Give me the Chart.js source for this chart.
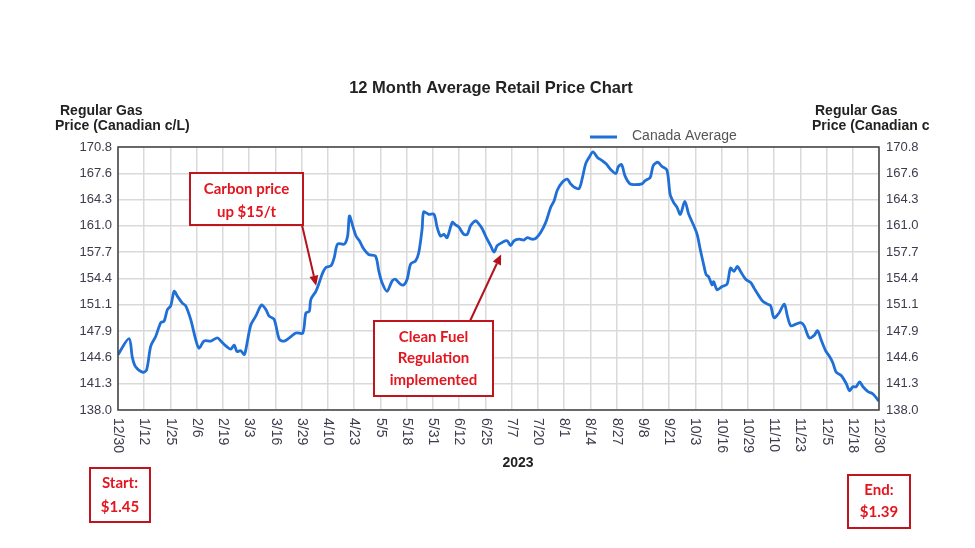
<!DOCTYPE html>
<html>
<head>
<meta charset="utf-8">
<title>12 Month Average Retail Price Chart</title>
<script src="https://cdn.jsdelivr.net/npm/chart.js@4.4.1/dist/chart.umd.min.js"></script>
<style>
  html, body { margin: 0; padding: 0; background: #fff; }
  #wrap { width: 975px; height: 548px; position: relative; }
</style>
</head>
<body>
<div id="wrap"><canvas id="priceChart" width="975" height="548"></canvas></div>
<script>
/* ================================================================
   12 Month Average Retail Price Chart — Canada regular gas
   ================================================================ */

// ── Data ─────────────────────────────────────────────────────────
const dateLabels = ['12/30','1/12','1/25','2/6','2/19','3/3','3/16','3/29','4/10','4/23',
                    '5/5','5/18','5/31','6/12','6/25','7/7','7/20','8/1','8/14','8/27',
                    '9/8','9/21','10/3','10/16','10/29','11/10','11/23','12/5','12/18','12/30'];
const yTickLabels = ['138.0','141.3','144.6','147.9','151.1','154.4','157.7','161.0','164.3','167.6','170.8'];
const yMin = 138.0, yMax = 170.8;

// position along the date axis (in label steps) and price, c/L
const pointPos = [
  0.00, 0.42, 0.55, 0.67, 0.95, 1.09, 1.25, 1.44, 1.63, 1.76, 1.88, 2.01, 2.14, 2.26, 2.46, 2.58,
  2.77, 2.96, 3.09, 3.28, 3.54, 3.79, 3.92, 4.11, 4.30, 4.43, 4.53, 4.68, 4.81, 4.87, 5.06, 5.25,
  5.47, 5.64, 5.76, 5.95, 6.15, 6.34, 6.53, 6.78, 7.04, 7.16, 7.29, 7.35, 7.54, 7.67, 7.80, 7.93,
  8.12, 8.24, 8.37, 8.63, 8.75, 8.82, 8.94, 9.07, 9.20, 9.36, 9.55, 9.81, 9.94, 10.06, 10.25, 10.45,
  10.57, 10.76, 10.89, 11.02, 11.15, 11.34, 11.46, 11.59, 11.65, 11.84, 12.04, 12.16, 12.29, 12.42,
  12.54, 12.74, 12.86, 12.99, 13.18, 13.31, 13.44, 13.63, 13.75, 13.88, 14.01, 14.20, 14.33, 14.45,
  14.64, 14.83, 14.96, 15.09, 15.28, 15.47, 15.60, 15.79, 15.92, 16.10, 16.30, 16.49, 16.62, 16.74,
  16.93, 17.12, 17.25, 17.38, 17.57, 17.70, 17.82, 17.95, 18.10, 18.27, 18.45, 18.60, 18.80, 18.98,
  19.06, 19.19, 19.32, 19.51, 19.70, 19.96, 20.09, 20.28, 20.40, 20.57, 20.72, 20.92, 21.04, 21.17,
  21.30, 21.43, 21.60, 21.75, 21.94, 22.07, 22.19, 22.32, 22.41, 22.51, 22.64, 22.70, 22.83, 23.02,
  23.21, 23.34, 23.47, 23.60, 23.72, 23.92, 24.11, 24.24, 24.43, 24.56, 24.75, 24.87, 25.00, 25.19,
  25.39, 25.51, 25.64, 25.83, 26.02, 26.15, 26.34, 26.53, 26.66, 26.79, 26.98, 27.11, 27.24, 27.37,
  27.56, 27.75, 27.88, 28.00, 28.13, 28.26, 28.39, 28.58, 28.77, 29.00
];
const prices = [
  144.9, 146.9, 144.5, 143.4, 142.7, 143.0, 146.0, 147.2, 148.9, 149.1, 150.5, 151.0, 152.8, 152.2, 151.3, 151.0,
  149.3, 146.8, 145.7, 146.6, 146.6, 147.0, 146.6, 146.0, 145.6, 146.1, 145.3, 145.4, 144.9, 145.5, 148.6, 149.7,
  151.1, 150.5, 149.7, 149.3, 146.8, 146.6, 147.0, 147.6, 147.6, 150.1, 150.3, 151.8, 152.8, 153.9, 155.1, 155.8,
  156.0, 157.0, 158.7, 158.7, 159.7, 162.2, 161.0, 159.7, 159.1, 158.1, 157.4, 157.2, 155.3, 153.9, 152.8, 154.1,
  154.3, 153.7, 153.6, 154.3, 156.2, 156.6, 157.6, 160.6, 162.7, 162.4, 162.4, 160.8, 159.7, 159.9,
  159.5, 161.4, 161.1, 160.8, 159.9, 159.9, 161.0, 161.6, 161.2, 160.6, 159.7, 158.5, 157.7, 158.5,
  158.9, 159.1, 158.5, 159.1, 159.3, 159.2, 159.5, 159.3, 159.4, 160.1, 161.4, 163.3, 164.1, 165.4,
  166.4, 166.8, 166.2, 165.8, 165.6, 167.0, 168.7, 169.5, 170.2, 169.5, 169.1, 168.7, 167.9, 167.5,
  168.3, 168.6, 167.2, 166.2, 166.1, 166.2, 166.6, 167.0, 168.5, 168.9, 168.4, 167.9, 164.9, 163.9,
  163.3, 162.4, 164.0, 162.4, 161.0, 159.9, 158.0, 156.1, 154.9, 154.6, 153.6, 154.0, 153.0, 153.4,
  153.7, 155.7, 155.3, 155.9, 155.3, 154.3, 153.9, 153.2, 152.2, 151.6, 151.2, 151.0, 149.5, 150.1,
  151.2, 149.7, 148.5, 148.7, 148.9, 148.5, 147.0, 147.3, 147.9, 146.8, 145.3, 144.7, 143.9, 142.7,
  142.3, 141.3, 140.4, 140.9, 140.9, 141.5, 140.9, 140.3, 140.0, 139.1
];

// ── Styles ───────────────────────────────────────────────────────
const LINE_BLUE = '#1f6fd6';
const GRID_GREY = '#d9d9d9';
const TICK_COLOR = '#3c3c4c';
const RED_TEXT = '#e3161f';
const RED_BORDER = '#c0141e';
const SANS = '"Liberation Sans", Arial, sans-serif';
const NOTE_FONT = 'bold 15px Lato, "Noto Sans", sans-serif';

// ── Annotation helpers ───────────────────────────────────────────
function noteBox(ctx, x, y, w, h, lines, lineYs) {
  ctx.save();
  ctx.fillStyle = '#fff';
  ctx.fillRect(x, y, w, h);
  ctx.strokeStyle = RED_BORDER;
  ctx.lineWidth = 2;
  ctx.strokeRect(x, y, w, h);
  ctx.fillStyle = RED_TEXT;
  ctx.font = NOTE_FONT;
  ctx.textAlign = 'center';
  ctx.textBaseline = 'middle';
  lines.forEach((t, i) => ctx.fillText(t, x + w / 2, lineYs[i]));
  ctx.restore();
}

function arrow(ctx, x1, y1, x2, y2) {
  const ang = Math.atan2(y2 - y1, x2 - x1);
  const head = 10, half = 4.5;
  ctx.save();
  ctx.strokeStyle = '#b3121c';
  ctx.fillStyle = '#b3121c';
  ctx.lineWidth = 2;
  ctx.beginPath();
  ctx.moveTo(x1, y1);
  ctx.lineTo(x2 - head * Math.cos(ang), y2 - head * Math.sin(ang));
  ctx.stroke();
  ctx.beginPath();
  ctx.moveTo(x2, y2);
  ctx.lineTo(x2 - head * Math.cos(ang) + half * Math.sin(ang), y2 - head * Math.sin(ang) - half * Math.cos(ang));
  ctx.lineTo(x2 - head * Math.cos(ang) - half * Math.sin(ang), y2 - head * Math.sin(ang) + half * Math.cos(ang));
  ctx.closePath();
  ctx.fill();
  ctx.restore();
}

// ── Decorations plugin: frame, titles, legend, date labels, notes ──
const decor = {
  id: 'decor',
  afterDraw(chart) {
    const { ctx, chartArea: a, scales } = chart;
    const xs = scales.x, ys = scales.y;

    // plot frame
    ctx.save();
    ctx.strokeStyle = '#404040';
    ctx.lineWidth = 1.5;
    ctx.strokeRect(a.left, a.top, a.right - a.left, a.bottom - a.top);

    // chart title
    ctx.fillStyle = '#222';
    ctx.font = 'bold 16.5px ' + SANS;
    ctx.textAlign = 'center';
    ctx.textBaseline = 'middle';
    ctx.fillText('12 Month Average Retail Price Chart', 491, 88);

    // axis titles
    ctx.font = 'bold 14px ' + SANS;
    ctx.textAlign = 'left';
    ctx.fillText('Regular Gas', 60, 111);
    ctx.fillText('Price (Canadian c/L)', 55, 126);
    ctx.fillText('Regular Gas', 815, 111);
    ctx.fillText('Price (Canadian c', 812, 126);

    // legend
    ctx.strokeStyle = LINE_BLUE;
    ctx.lineWidth = 3;
    ctx.beginPath();
    ctx.moveTo(590, 137);
    ctx.lineTo(617, 137);
    ctx.stroke();
    ctx.fillStyle = '#555';
    ctx.font = '14px ' + SANS;
    ctx.fillText('Canada Average', 632, 136);

    // date labels, rotated clockwise
    ctx.fillStyle = TICK_COLOR;
    ctx.font = '14px ' + SANS;
    dateLabels.forEach((lab, i) => {
      ctx.save();
      ctx.translate(xs.getPixelForValue(i), a.bottom + 8);
      ctx.rotate(Math.PI / 2);
      ctx.textAlign = 'left';
      ctx.textBaseline = 'middle';
      ctx.fillText(lab, 0, 0);
      ctx.restore();
    });
    ctx.fillStyle = '#222';
    ctx.font = 'bold 14px ' + SANS;
    ctx.textAlign = 'center';
    ctx.fillText('2023', 518, 463);
    ctx.restore();

    // notes and arrows
    arrow(ctx, 302, 225, xs.getPixelForValue(7.55), ys.getPixelForValue(153.5));
    arrow(ctx, 470, 321, xs.getPixelForValue(14.6), ys.getPixelForValue(157.4));
    noteBox(ctx, 190, 173, 113, 52, ['Carbon price', 'up $15/t'], [189, 212]);
    noteBox(ctx, 374, 321, 119, 75, ['Clean Fuel', 'Regulation', 'implemented'], [337, 358, 380]);
    noteBox(ctx, 90, 468, 60, 54, ['Start:', '$1.45'], [483, 507]);
    noteBox(ctx, 848, 475, 62, 53, ['End:', '$1.39'], [490, 512]);
  }
};

// ── Chart ────────────────────────────────────────────────────────
const evenTicks = scale => {
  scale.ticks = yTickLabels.map((_, i) => ({ value: yMin + i * (yMax - yMin) / (yTickLabels.length - 1) }));
};

new Chart(document.getElementById('priceChart'), {
  type: 'line',
  data: {
    datasets: [{
      label: 'Canada Average',
      data: pointPos.map((p, i) => ({ x: p, y: prices[i] })),
      borderColor: LINE_BLUE,
      borderWidth: 2.8,
      pointRadius: 0,
      tension: 0.3,
      fill: false
    }]
  },
  options: {
    responsive: false,
    animation: false,
    devicePixelRatio: 1,
    layout: { padding: { top: 147, left: 0, right: 0, bottom: 0 } },
    plugins: {
      legend: { display: false },
      tooltip: { enabled: false },
      title: { display: false }
    },
    scales: {
      x: {
        type: 'linear',
        position: 'bottom',
        min: 0,
        max: dateLabels.length - 1,
        afterBuildTicks: s => { s.ticks = dateLabels.map((_, i) => ({ value: i })); },
        afterFit: s => { s.height = 138; },
        ticks: { display: false },
        grid: { color: GRID_GREY, lineWidth: 1.5, drawTicks: false },
        border: { display: false }
      },
      y: {
        position: 'left',
        min: yMin,
        max: yMax,
        afterBuildTicks: evenTicks,
        afterFit: s => { s.width = 118; },
        ticks: {
          callback: (v, i) => yTickLabels[i],
          color: TICK_COLOR,
          font: { size: 13, family: SANS },
          padding: 6,
          autoSkip: false
        },
        grid: { color: GRID_GREY, lineWidth: 1.5, drawTicks: false },
        border: { display: false }
      },
      y2: {
        position: 'right',
        min: yMin,
        max: yMax,
        afterBuildTicks: evenTicks,
        afterFit: s => { s.width = 96; },
        ticks: {
          callback: (v, i) => yTickLabels[i],
          color: TICK_COLOR,
          font: { size: 13, family: SANS },
          padding: 7,
          autoSkip: false
        },
        grid: { display: false, drawTicks: false },
        border: { display: false }
      }
    }
  },
  plugins: [decor]
});
</script>
</body>
</html>
